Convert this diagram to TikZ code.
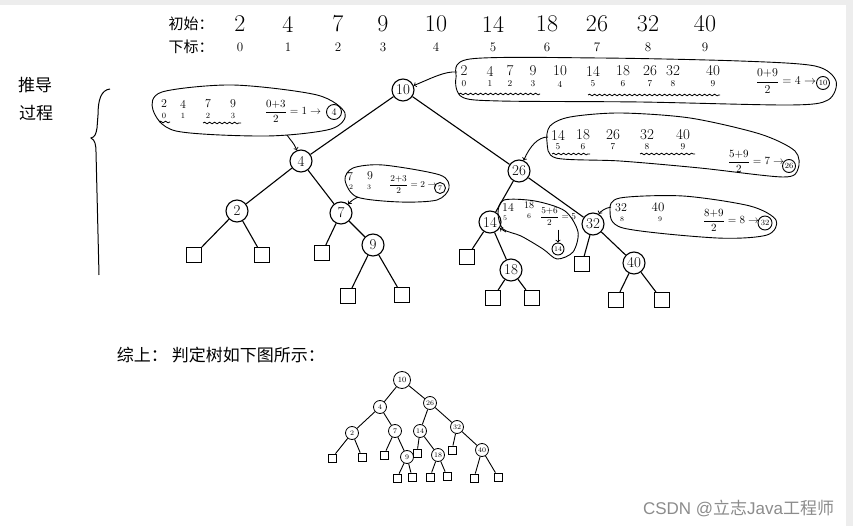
\RequirePackage{fix-cm}
\documentclass[tikz,border=0pt]{standalone}
\usepackage{fontspec}
\newfontfamily\cjk{Noto Sans CJK SC}
\newfontfamily\wmfont{Liberation Sans}
\usetikzlibrary{decorations.pathmorphing}
\newcommand{\fs}[1]{\fontsize{#1}{#1}\selectfont}

\begin{document}
\begin{tikzpicture}[x=1pt,y=-1pt,
  line width=1.1pt,
  tree node/.style={circle,draw,inner sep=0pt,minimum size=22pt,font=\fs{15}},
  leaf node/.style={rectangle,draw,inner sep=0pt,minimum size=15pt},
  small node/.style={circle,draw,inner sep=0pt,minimum size=13pt,line width=0.8pt,font=\fs{7}},
  small leaf/.style={rectangle,draw,inner sep=0pt,minimum size=8pt,line width=0.8pt},
  circ node/.style={circle,draw,inner sep=0pt,minimum size=13pt,line width=0.9pt,font=\fs{8}},
  wavy/.style={decorate,decoration={snake,amplitude=0.8pt,segment length=5pt},line width=0.8pt},
  note/.style={draw,line width=0.9pt}]

  \useasboundingbox (0,0) rectangle (853,526);
  \fill[black!7] (0,0) rectangle (853,526);
  \fill[white] (0,5) rectangle (846,526);

  \node[font=\cjk\fs{15}] (init) at (191,24) {初始：};
  \node[font=\cjk\fs{15}] (index) at (191,47) {下标：};
  \foreach \v/\x [count=\i from 0] in {2/240,4/288,7/338,9/383,10/436,14/493,18/547,26/597,32/648,40/705}{
    \node[font=\fs{24}] (h\i) at (\x,24) {\v};
    \node[font=\fs{13}] (k\i) at (\x,47) {\i};
  }

  \node[font=\cjk\fs{17}] (deriv) at (35,85) {推导};
  \node[font=\cjk\fs{17}] (proc) at (36,113) {过程};
  \draw[line width=1pt] (110,89) .. controls (101,90) and (98,100) .. (98,115) -- (97,128)
    .. controls (96,134) and (95,137) .. (91,138) .. controls (95,140) and (96,145) .. (96,152) -- (99,275);

  \node[tree node] (10) at (403,90) {10};
  \node[tree node] (4) at (301,161) {4};
  \node[tree node] (26) at (519,171) {26};
  \node[tree node] (2) at (237,211) {2};
  \node[tree node] (7) at (341,213) {7};
  \node[tree node] (14) at (490,222) {14};
  \node[tree node] (32) at (593,224) {32};
  \node[tree node] (9) at (373,245) {9};
  \node[tree node] (18) at (511,270) {18};
  \node[tree node] (40) at (634,263) {40};
  \node[leaf node] (l2a) at (194,255) {};
  \node[leaf node] (l2b) at (262,255) {};
  \node[leaf node] (l7a) at (322,253) {};
  \node[leaf node] (l9a) at (348,296) {};
  \node[leaf node] (l9b) at (402,295) {};
  \node[leaf node] (l14a) at (467,257) {};
  \node[leaf node] (l18a) at (493,298) {};
  \node[leaf node] (l18b) at (532,298) {};
  \node[leaf node] (l32a) at (582,264) {};
  \node[leaf node] (l40a) at (616,300) {};
  \node[leaf node] (l40b) at (662,300) {};

  \path
   (10) edge (4)
   (10) edge (26)
   (4) edge (2)
   (4) edge (7)
   (2) edge (l2a)
   (2) edge (l2b)
   (7) edge (l7a)
   (7) edge (9)
   (9) edge (l9a)
   (9) edge (l9b)
   (26) edge (14)
   (26) edge (32)
   (14) edge (l14a)
   (14) edge (18)
   (18) edge (l18a)
   (18) edge (l18b)
   (32) edge (l32a)
   (32) edge (40)
   (40) edge (l40a)
   (40) edge (l40b);

  \draw[note] plot[smooth cycle] coordinates {(470,59) (600,58) (740,61) (815,66) (836,81) (828,100) (790,105) (640,102) (500,101) (462,97) (456,78)};
  \foreach \v/\x [count=\i from 0] in {2/464,4/490,7/510,9/533,10/560,14/593,18/623,26/650,32/673,40/713}{
    \node[font=\fs{15}] (a\i) at (\x,71) {\v};
    \node[font=\fs{9}] (ak\i) at (\x,84) {\i};
  }
  \draw[wavy] (459,94) -- (540,94);
  \draw[wavy] (588,95) -- (720,95);
  \node[font=\fs{12}] (fa) at (786,81) {$\displaystyle\frac{0{+}9}{2}=4\rightarrow$};
  \node[circ node] (ca) at (823,83) {10};
  \coordinate (aa) at (457,72);
  \draw[->,line width=0.9pt] (aa) .. controls (445,71) and (432,78) .. (10);

  \draw[note] plot[smooth cycle] coordinates {(550,126) (570,117) (620,113) (690,118) (760,134) (795,151) (798,169) (783,177) (700,168) (620,161) (556,158) (547,142)};
  \foreach \v/\x [count=\i from 5] in {14/558,18/583,26/613,32/647,40/683}{
    \node[font=\fs{15}] (b\i) at (\x,135) {\v};
    \node[font=\fs{9}] (bk\i) at (\x,147) {\i};
  }
  \draw[wavy] (552,154) -- (590,154);
  \draw[wavy] (640,154) -- (695,154);
  \node[font=\fs{11}] (fb) at (756,161) {$\displaystyle\frac{5{+}9}{2}=7\rightarrow$};
  \node[circ node] (cb) at (789,166) {26};
  \coordinate (bb) at (548,137);
  \draw[->,line width=0.9pt] (bb) .. controls (538,137) and (530,146) .. (26);

  \draw[note] plot[smooth cycle] coordinates {(153,110) (162,92) (233,85) (317,95) (345,113) (331,129) (267,136) (176,131)};
  \foreach \v/\x [count=\i from 0] in {2/164,4/183,7/208,9/233}{
    \node[font=\fs{12}] (c\i) at (\x,104) {\v};
    \node[font=\fs{8}] (ck\i) at (\x,116) {\i};
  }
  \draw[wavy] (159,122) -- (170,122);
  \draw[wavy] (203,123) -- (241,123);
  \node[font=\fs{11}] (fc) at (293,111) {$\displaystyle\frac{0{+}3}{2}=1\rightarrow$};
  \node[circ node,minimum size=15pt,font=\fs{10}] (cc) at (334,112) {4};
  \coordinate (cd) at (287,135);
  \draw[->,line width=0.9pt] (cd) .. controls (291,141) and (294,143) .. (4);

  \draw[note] plot[smooth cycle] coordinates {(345,180) (353,168) (383,165) (440,175) (449,188) (437,200) (400,202) (357,197)};
  \node[font=\fs{12}] (d0) at (350,177) {7};
  \node[font=\fs{12}] (d1) at (370,176) {9};
  \node[font=\fs{7}] (dk0) at (351,187) {2};
  \node[font=\fs{7}] (dk1) at (369,187) {3};
  \node[font=\fs{9}] (fd) at (413,185) {$\displaystyle\frac{2{+}3}{2}=2\rightarrow$};
  \node[circ node,minimum size=11pt,font=\fs{7}] (cd7) at (440,188) {7};
  \coordinate (dd) at (358,197);
  \draw[->,line width=0.9pt] (dd) .. controls (352,200) and (350,202) .. (7);

  \draw[note] plot[smooth cycle] coordinates {(504,200) (535,201) (565,211) (578,232) (573,252) (557,259) (543,249) (521,236) (503,229) (498,213)};
  \node[font=\fs{12}] (e0) at (508,207) {14};
  \node[font=\fs{7}] (ek0) at (505,218) {5};
  \node[font=\fs{10}] (e1) at (529,205) {18};
  \node[font=\fs{7}] (ek1) at (529,216) {6};
  \node[font=\fs{9}] (fe) at (558,217) {$\displaystyle\frac{5{+}6}{2}=5$};
  \node[circ node,minimum size=12pt,font=\fs{7}] (ce) at (558,249) {14};
  \draw[->,line width=0.9pt] (fe.south -| ce) -- (ce);
  \coordinate (ee) at (506,232);
  \draw[->,line width=0.9pt] (ee) -- (14);

  \draw[note] plot[smooth cycle] coordinates {(610,210) (620,198) (683,196) (750,206) (776,220) (767,235) (717,238) (623,228)};
  \node[font=\fs{12}] (f0) at (621,208) {32};
  \node[font=\fs{7}] (fk0) at (622,219) {8};
  \node[font=\fs{13}] (f1) at (658,207) {40};
  \node[font=\fs{7}] (fk1) at (660,219) {9};
  \node[font=\fs{11}] (ff) at (731,220) {$\displaystyle\frac{8{+}9}{2}=8\rightarrow$};
  \node[circ node,minimum size=14pt] (cf) at (765,223) {32};
  \coordinate (fff) at (611,207);
  \draw[->,line width=0.9pt] (fff) .. controls (605,208) and (600,212) .. (32);

  \node[font=\cjk\fs{17},anchor=west] (sum) at (113,355) {综上：};
  \node[font=\cjk\fs{17},anchor=west] (result) at (168,355) {判定树如下图所示：};

  \node[small node,minimum size=17pt,font=\fs{8}] (s10) at (402,380) {10};
  \node[small node] (s4) at (380,407) {4};
  \node[small node] (s26) at (430,403) {26};
  \node[small node] (s2) at (352,433) {2};
  \node[small node] (s7) at (395,431) {7};
  \node[small node] (s14) at (420,431) {14};
  \node[small node] (s32) at (457,427) {32};
  \node[small node] (s9) at (407,457) {9};
  \node[small node] (s18) at (438,455) {18};
  \node[small node] (s40) at (482,450) {40};
  \node[small leaf] (sl2a) at (332,458) {};
  \node[small leaf] (sl2b) at (362,457) {};
  \node[small leaf] (sl7a) at (384,455) {};
  \node[small leaf] (sl14a) at (417,453) {};
  \node[small leaf] (sl32a) at (452,450) {};
  \node[small leaf] (sl9a) at (397,478) {};
  \node[small leaf] (sl9b) at (412,477) {};
  \node[small leaf] (sl18a) at (430,477) {};
  \node[small leaf] (sl18b) at (447,476) {};
  \node[small leaf] (sl40a) at (474,478) {};
  \node[small leaf] (sl40b) at (498,477) {};

  \path[line width=0.9pt]
   (s10) edge (s4)
   (s10) edge (s26)
   (s4) edge (s2)
   (s4) edge (s7)
   (s2) edge (sl2a)
   (s2) edge (sl2b)
   (s7) edge (sl7a)
   (s7) edge (s9)
   (s9) edge (sl9a)
   (s9) edge (sl9b)
   (s26) edge (s14)
   (s26) edge (s32)
   (s14) edge (sl14a)
   (s14) edge (s18)
   (s18) edge (sl18a)
   (s18) edge (sl18b)
   (s32) edge (sl32a)
   (s32) edge (s40)
   (s40) edge (sl40a)
   (s40) edge (sl40b);

  \node[font=\fs{17},text=black!45,anchor=east] (mark) at (838,508) {\wmfont CSDN @\cjk 立志\wmfont Java\cjk 工程师};
\end{tikzpicture}
\end{document}
